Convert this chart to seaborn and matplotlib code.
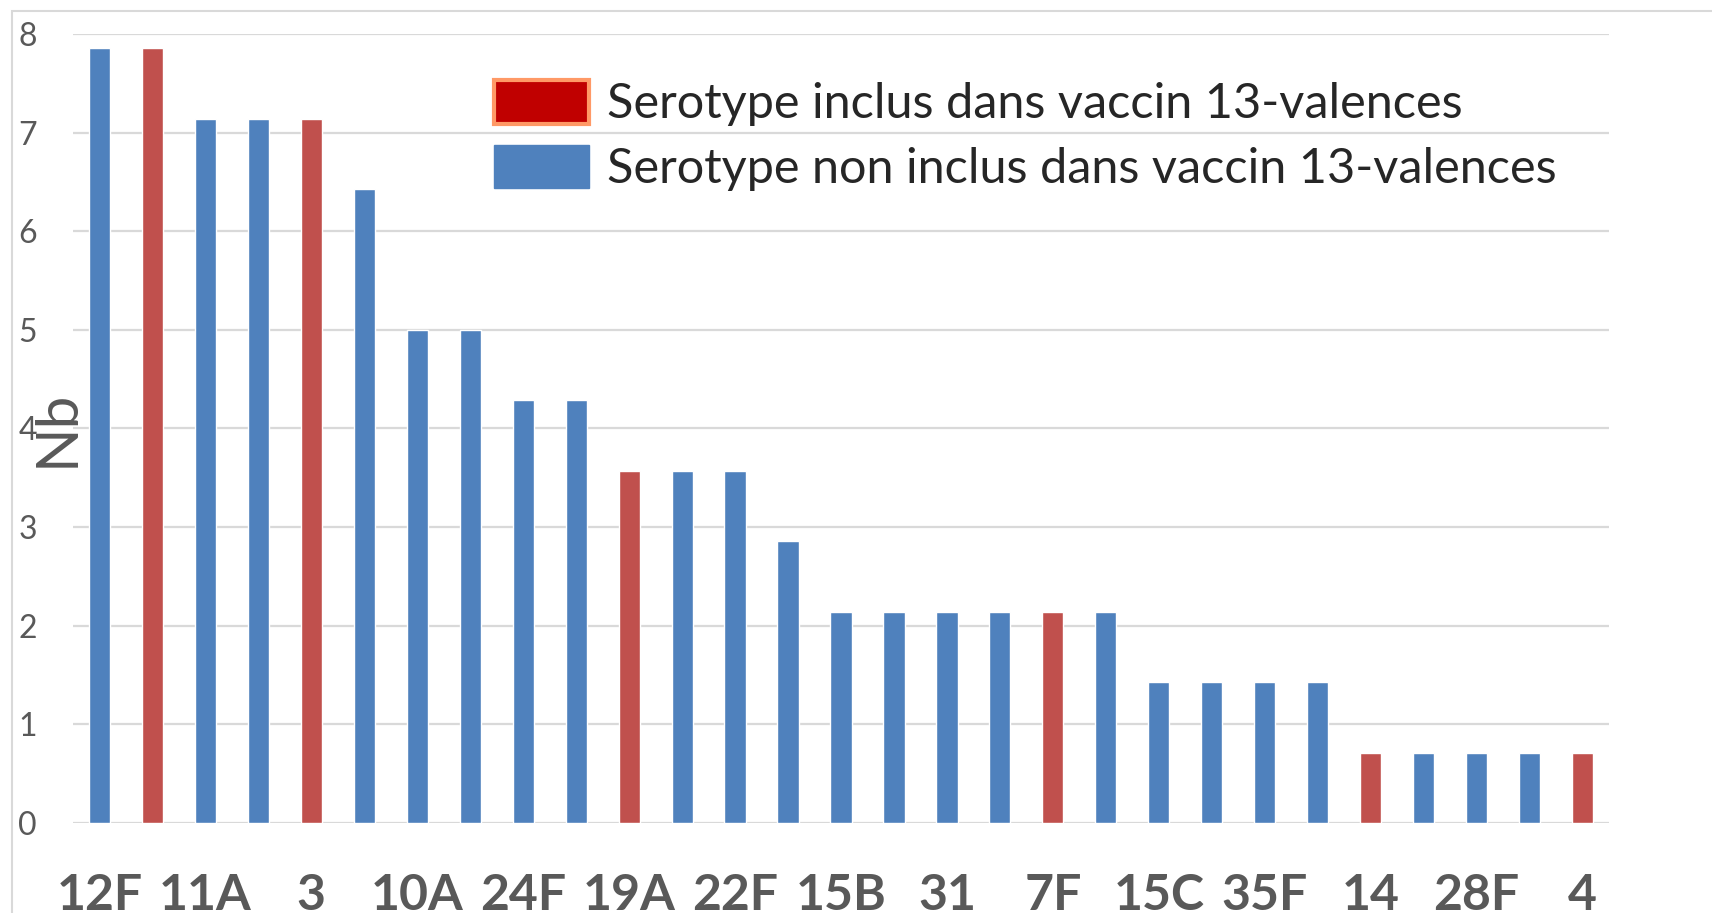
import numpy as np
import pandas as pd
import seaborn as sns
import matplotlib.pyplot as plt
from matplotlib.patches import Patch, Rectangle

# serotypes sorted by frequency (%), only every other one is labelled on the axis
counts = [11, 11, 10, 10, 10, 9, 7, 7, 6, 6, 5, 5, 5, 4, 3,
          3, 3, 3, 3, 3, 2, 2, 2, 2, 1, 1, 1, 1, 1]
total = 140
in_vaccine = [0, 1, 0, 0, 1, 0, 0, 0, 0, 0, 1, 0, 0, 0, 0,
              0, 0, 0, 1, 0, 0, 0, 0, 0, 1, 0, 0, 0, 1]
tick_labels = ['12F', '11A', '3', '10A', '24F', '19A', '22F', '15B',
               '31', '7F', '15C', '35F', '14', '28F', '4']
legend_labels = ['Serotype inclus dans vaccin 13-valences',
                 'Serotype non inclus dans vaccin 13-valences']

df = pd.DataFrame({
    'rang': np.arange(len(counts)),
    'pct': np.array(counts) / total * 100,
    'groupe': ['in' if v else 'out' for v in in_vaccine],
})

sns.set_style('white')
plt.rcParams['font.family'] = ['Lato', 'DejaVu Sans']

fig = plt.figure(figsize=(17.12, 9.13), dpi=100)
ax = fig.add_axes([73 / 1712, 90 / 913, (1609 - 73) / 1712, (823 - 34) / 913])

sns.barplot(data=df, x='rang', y='pct', hue='groupe',
            palette={'in': '#C0504D', 'out': '#4F81BD'},
            dodge=False, width=0.4, legend=False, ax=ax, saturation=1)

ax.set_xlim(-0.5, len(counts) - 0.5)
ax.set_ylim(0, 8)
ax.set_yticks(range(0, 9))
ax.yaxis.grid(True, color='#D9D9D9', linewidth=1.6)
ax.set_axisbelow(True)
for s in ax.spines.values():
    s.set_visible(False)

ax.set_xticks(np.arange(0, len(counts), 2))
ax.set_xticklabels(tick_labels, fontsize=36, fontweight='bold', color='#595959')
ax.tick_params(axis='x', length=0, pad=36)
ax.tick_params(axis='y', length=0, pad=26, labelsize=23, labelcolor='#595959')
ax.set_xlabel('')
ax.set_ylabel('')

fig.text(57 / 1712, 1 - 428 / 913, 'Nb', rotation=90, fontsize=42,
         color='#595959', ha='center', va='center')

handles = [Patch(facecolor='#C00000', edgecolor='#FF9966', linewidth=3),
           Patch(facecolor='#4F81BD', edgecolor='#4F81BD', linewidth=1)]
fig.legend(handles, legend_labels, loc='upper left',
           bbox_to_anchor=(494 / 1712, 1 - 80 / 913), frameon=False,
           fontsize=35, handlelength=1.95, handleheight=1.0,
           handletextpad=0.37, labelspacing=0.38, borderpad=0, borderaxespad=0)

# outer chart frame
fig.patches.append(Rectangle((12 / 1712, -0.1), 1.1, 1.1 - 11 / 913,
                             transform=fig.transFigure, fill=False,
                             edgecolor='#D9D9D9', linewidth=1.5))

fig.savefig('out.png', dpi=100)
